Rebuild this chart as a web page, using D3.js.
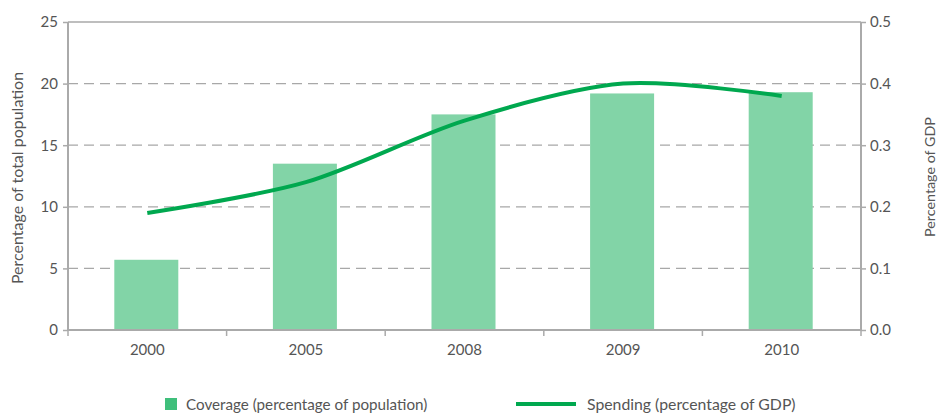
<!DOCTYPE html>
<html><head><meta charset="utf-8">
<script src="https://cdn.jsdelivr.net/npm/d3@7"></script>
<style>
body{margin:0;background:#fff;}
text{font-family:Lato,"Open Sans",sans-serif;fill:#555;}
</style></head>
<body><svg id="c" width="938" height="415"></svg>
<script>
const years = ["2000","2005","2008","2009","2010"];
const coverage = [5.7,13.5,17.5,19.2,19.3];
const spending = [0.19,0.24,0.34,0.40,0.38];
const leftTicks = [0,5,10,15,20,25];
const rightTicks = [0,0.1,0.2,0.3,0.4,0.5];

const svg = d3.select("#c");
const L=68,R=861,T=22,B=330;
const xb = d3.scaleBand().domain(years).range([L,R]);
const yL = d3.scaleLinear().domain([0,25]).range([B,T]);
const yR = d3.scaleLinear().domain([0,0.5]).range([B,T]);
const gridC="#a8a8a8";

// grid
svg.append("g").selectAll("line").data(leftTicks.filter(d=>d>0&&d<25)).join("line")
 .attr("x1",L).attr("x2",R).attr("y1",d=>yL(d)).attr("y2",d=>yL(d))
 .attr("stroke",gridC).attr("stroke-width",1.3).attr("stroke-dasharray","10,6");
// top border
svg.append("line").attr("x1",L).attr("x2",R).attr("y1",T).attr("y2",T).attr("stroke",gridC).attr("stroke-width",1.3);

// bars
svg.append("g").selectAll("rect").data(years).join("rect")
 .attr("x",d=>xb(d)+xb.bandwidth()/2-33).attr("width",64)
 .attr("y",(d,i)=>yL(coverage[i])).attr("height",(d,i)=>B-yL(coverage[i]))
 .attr("fill","#82d4a7");

// axes
const axC="#aaa";
const gl = svg.append("g").attr("transform",`translate(${L},0)`)
 .call(d3.axisLeft(yL).tickValues(leftTicks).tickSize(5).tickPadding(5).tickFormat(d3.format("d")));
const gr = svg.append("g").attr("transform",`translate(${R},0)`)
 .call(d3.axisRight(yR).tickValues(rightTicks).tickSize(5).tickPadding(4).tickFormat(d3.format(".1f")));
const gx = svg.append("g").attr("transform",`translate(0,${B})`)
 .call(d3.axisBottom(xb).tickSize(0).tickPadding(14));
// bottom tick marks at band boundaries
svg.append("g").selectAll("line").data(years.map(d=>xb(d)).concat([R])).join("line")
 .attr("x1",d=>d).attr("x2",d=>d).attr("y1",B).attr("y2",B+6).attr("stroke",axC).attr("stroke-width",1.5);
[gl,gr,gx].forEach(g=>{
  g.selectAll(".domain").attr("stroke",axC).attr("stroke-width",2);
  g.selectAll(".tick line").attr("stroke",axC).attr("stroke-width",1.5);
  g.selectAll("text").attr("font-size",15).attr("fill","#555").attr("font-family","Lato, 'Open Sans', sans-serif");
});
gl.select(".domain").attr("d",`M0,${T}V${B}`);
gr.select(".domain").attr("d",`M0,${T}V${B}`);
gx.select(".domain").attr("d",`M${L},0H${R}`);

// line
const line = d3.line().x((d,i)=>xb(years[i])+xb.bandwidth()/2).y(d=>yR(d)).curve(d3.curveCardinal.tension(0.1));
svg.append("path").datum(spending).attr("d",line).attr("fill","none").attr("stroke","#00a84f").attr("stroke-width",4);

// axis titles
svg.append("text").attr("transform",`translate(23,${(T+B)/2+2}) rotate(-90)`).attr("text-anchor","middle")
 .attr("font-size",16).text("Percentage of total population");
svg.append("text").attr("transform",`translate(935,${(T+B)/2+1}) rotate(-90)`).attr("text-anchor","middle")
 .attr("font-size",14.3).text("Percentage of GDP");

// legend
const lg = svg.append("g");
lg.append("rect").attr("x",165).attr("y",398).attr("width",12).attr("height",12).attr("fill","#3fbf7b");
lg.append("text").attr("x",186).attr("y",410).attr("font-size",15.2).text("Coverage (percentage of population)");
lg.append("line").attr("x1",516).attr("x2",576).attr("y1",404).attr("y2",404).attr("stroke","#00a84f").attr("stroke-width",4);
lg.append("text").attr("x",587).attr("y",410).attr("font-size",15.8).text("Spending (percentage of GDP)");
</script></body></html>
